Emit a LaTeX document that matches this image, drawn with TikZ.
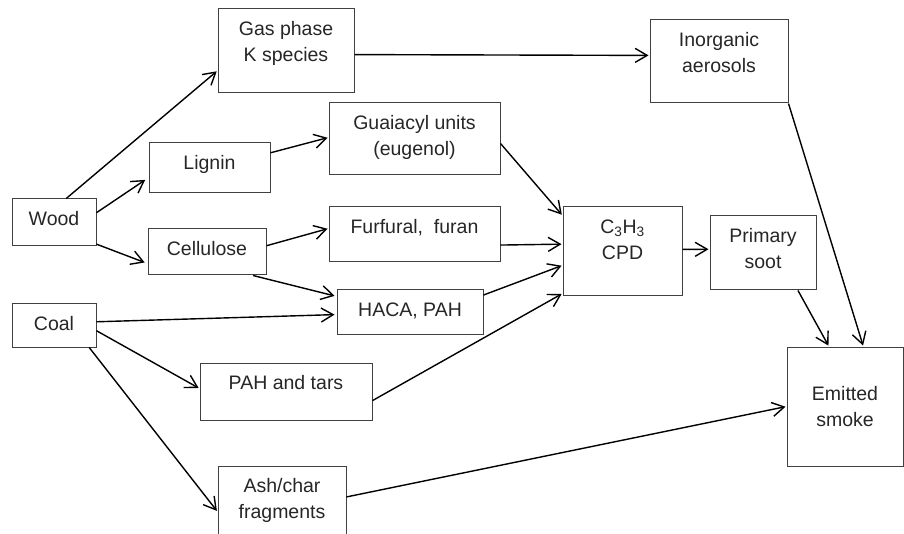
\documentclass[tikz,border=0pt]{standalone}
\usepackage{fontspec}
\setmainfont{Liberation Sans}
\usepackage{tikz}
\usetikzlibrary{arrows.meta, calc}

\tikzset{
  box/.style={draw=black!75, line width=1pt, inner sep=0pt},
  txt/.style={text=black!85, align=center, inner sep=0pt,
    font=\fontsize{19.5}{26}\selectfont},
  lbl/.style={label={[txt, anchor=north, yshift=-13pt]north:#1}},
  flow/.style={-{Straight Barb[length=12pt, width=14pt]}, line width=1.4pt, shorten >=1pt}
}

\begin{document}
\begin{tikzpicture}[x=1pt, y=-1pt]
\useasboundingbox (0,0) rectangle (904,534);

% Sources
\node[box, minimum width=84pt, minimum height=47pt, lbl={Wood}] (wood) at (54,222.5) {};
\node[box, minimum width=84pt, minimum height=43pt, lbl={Coal}] (coal) at (54,325.5) {};

% Intermediates
\node[box, minimum width=136pt, minimum height=84pt, lbl={Gas phase\\K species}] (gas) at (286,51) {};
\node[box, minimum width=121pt, minimum height=50pt, lbl={Lignin}] (lignin) at (209.5,168) {};
\node[box, minimum width=118pt, minimum height=46pt, lbl={Cellulose}] (cell) at (207,252) {};
\node[box, minimum width=171pt, minimum height=72pt, lbl={Guaiacyl units\\(eugenol)}] (guai) at (414.5,139) {};
\node[box, minimum width=171pt, minimum height=55pt, lbl={Furfural,\ \ furan}] (furf) at (414.5,234.5) {};
\node[box, minimum width=146pt, minimum height=44pt, lbl={HACA, PAH}] (haca) at (410,312) {};
\node[box, minimum width=172pt, minimum height=57pt, lbl={PAH and tars}] (pah) at (286,391.5) {};
\node[box, minimum width=128pt, minimum height=80pt, lbl={Ash/char\\fragments}] (ash) at (282,506) {};

% Products
\node[box, minimum width=138pt, minimum height=83pt, lbl={Inorganic\\aerosols}] (inorg) at (719,61.5) {};
\node[box, minimum width=119pt, minimum height=89pt, lbl={C\textsubscript{3}H\textsubscript{3}\\CPD}] (cpd) at (622.5,251.5) {};
\node[box, minimum width=106pt, minimum height=74pt, lbl={Primary\\soot}] (soot) at (763,253) {};
\node[box, txt, draw=black!75, line width=1pt, minimum width=116pt, minimum height=119pt] (smoke) at (845,406.5) {Emitted\\smoke};

% Wood branches
\draw[flow] (wood.63) -- (gas.196);
\draw[flow, shorten >=4pt] (wood.13) -- (lignin.189);
\draw[flow, shorten >=3pt] (wood.333) -- (cell.191);
\draw[flow] (lignin.14) -- (guai.179);
\draw[flow] (cell.6) -- (furf.176);
\draw[flow, shorten >=2pt] (cell.333) -- (haca.168);

% Coal branches
\draw[flow, shorten >=2pt] (coal.5) -- (haca.182);
\draw[flow] (coal.353) -- (pah.178);
\draw[flow] (coal.328) -- (ash.185);

% Towards CPD and smoke
\draw[flow] (gas.357) -- (inorg.175);
\draw[flow] (guai.357) -- (cpd.149);
\draw[flow] (furf.353) -- (cpd.173);
\draw[flow] (haca.13) -- (cpd.193);
\draw[flow] (pah.354) -- (cpd.215);
\draw[flow] (cpd.2) -- (soot.176);
\draw[flow] (inorg.south east) -- (smoke.73);
\draw[flow] (soot.313) -- (smoke.105);
\draw[flow] (ash.8) -- (smoke.180);

\end{tikzpicture}
\end{document}
